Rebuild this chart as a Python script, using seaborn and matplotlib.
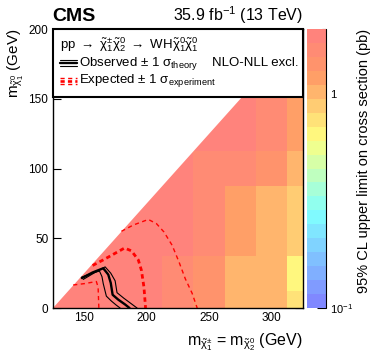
import matplotlib
matplotlib.use("Agg")
import matplotlib.pyplot as plt
import numpy as np
import pandas as pd
import seaborn as sns
from matplotlib.colors import LinearSegmentedColormap, ListedColormap, LogNorm
from matplotlib.patches import Polygon, Rectangle
from matplotlib.ticker import LogLocator, NullFormatter

# signal grid (GeV)
m_chargino = [125, 150, 175, 200, 225, 250, 275, 300, 325]
m_lsp = [0, 25, 50, 75, 100, 125, 150, 175, 200]
nan = np.nan
# 95% CL upper limit on the cross section (pb), one row per m_lsp
xsec_limit = [
    [1.95, 1.95, 1.92, 1.88, 1.70, 1.35, 0.95, 0.95, 0.80],
    [nan, 1.95, 1.92, 1.88, 1.70, 1.35, 1.00, 0.95, 0.70],
    [nan, nan, 1.95, 1.90, 1.85, 1.60, 1.25, 1.08, 0.85],
    [nan, nan, nan, 1.90, 1.85, 1.60, 1.25, 1.08, 0.85],
    [nan, nan, nan, nan, 1.90, 1.62, 1.55, 1.35, 1.08],
    [nan, nan, nan, nan, nan, 1.95, 1.80, 1.60, 1.10],
    [nan, nan, nan, nan, nan, nan, 1.90, 1.62, 1.18],
    [nan, nan, nan, nan, nan, nan, nan, 1.65, 1.25],
    [nan, nan, nan, nan, nan, nan, nan, nan, 1.30],
]

# exclusion contours
obs_x = [148.5, 157, 165.5, 169.5, 171.5, 173, 177.5, 183, 186.5]
obs_y = [21.5, 25.5, 28.5, 24, 18, 9.5, 6, 2.5, 0]
obs_up_x = [149.5, 158, 167, 171.5, 175, 176.5, 182, 188, 192.5]
obs_up_y = [20.5, 25, 29.5, 25, 19.5, 11, 7, 3, 0]
obs_dn_x = [148, 155, 162.5, 164.5, 165.5, 168, 172, 176, 179]
obs_dn_y = [22, 24.5, 26.5, 22.5, 17.5, 8.5, 5, 2, 0]

exp_x = [157, 165.5, 174.5, 182.5, 188, 193.5, 196, 198, 199.3]
exp_y = [30.5, 34.5, 39, 43, 41, 34.5, 27, 15, 0]
exp_up_x = [180, 189.5, 201.5, 208, 214, 220.5, 226, 231, 236.5, 240.5]
exp_up_y = [55, 59.5, 63.5, 60.5, 54.5, 45, 33, 21, 10.5, 0]
exp_dn_x = [141.5, 150.5, 160, 161.4, 162]
exp_dn_y = [16.5, 17.5, 19, 15, 0]

sns.set_style("ticks")
plt.rcParams["font.family"] = ["Liberation Sans", "DejaVu Sans"]
plt.rcParams["mathtext.fontset"] = "custom"
plt.rcParams["mathtext.rm"] = "Liberation Sans"
plt.rcParams["mathtext.it"] = "Liberation Sans"
plt.rcParams["mathtext.bf"] = "Liberation Sans:bold"
plt.rcParams["text.color"] = "black"
plt.rcParams["axes.labelcolor"] = "black"
plt.rcParams["xtick.color"] = "black"
plt.rcParams["ytick.color"] = "black"

# CMS SUSY palette, 20 levels
stops = [0.0, 0.34, 0.61, 0.84, 1.0]
rgb = [(0.5, 0.5, 1.0), (0.5, 1.0, 1.0), (1.0, 1.0, 0.5), (1.0, 0.6, 0.4), (1.0, 0.5, 0.5)]
base = LinearSegmentedColormap.from_list("susy", list(zip(stops, rgb)))
cmap = ListedColormap(base((np.arange(20) + 0.5) / 20))

rows = []
for j, my in enumerate(m_lsp):
    for i, mx in enumerate(m_chargino):
        if not np.isnan(xsec_limit[j][i]):
            rows.append({"mx": mx, "my": my, "limit": xsec_limit[j][i]})
df = pd.DataFrame(rows)

x_edges = np.arange(112.5, 337.6, 25)
y_edges = np.arange(-12.5, 212.6, 25)

fig = plt.figure(figsize=(3.74, 3.59), dpi=100)
ax = fig.add_axes([0.1404, 0.142, 0.6698, 0.777])
cax = fig.add_axes([0.821, 0.142, 0.05, 0.777])

sns.histplot(data=df, x="mx", y="my", weights="limit", bins=[x_edges, y_edges],
             cmap=cmap, ax=ax)
mesh = ax.collections[0]
mesh.set_norm(LogNorm(vmin=0.1, vmax=2.0))
mesh.set_clip_path(Polygon([(125, 0), (325, 200), (325, 0)], closed=True,
                           transform=ax.transData))

thin_dash = (3, 2.5)
thick_dash = (1.6, 1.2)
sns.lineplot(x=exp_up_x, y=exp_up_y, sort=False, estimator=None, color="red",
             lw=1.0, dashes=thin_dash, ax=ax)
sns.lineplot(x=exp_dn_x, y=exp_dn_y, sort=False, estimator=None, color="red",
             lw=1.0, dashes=thin_dash, ax=ax)
sns.lineplot(x=exp_x, y=exp_y, sort=False, estimator=None, color="red",
             lw=2.0, dashes=thick_dash, ax=ax)
sns.lineplot(x=obs_up_x, y=obs_up_y, sort=False, estimator=None, color="black",
             lw=0.8, ax=ax)
sns.lineplot(x=obs_dn_x, y=obs_dn_y, sort=False, estimator=None, color="black",
             lw=0.8, ax=ax)
sns.lineplot(x=obs_x, y=obs_y, sort=False, estimator=None, color="black",
             lw=1.7, ax=ax)

ax.set_xlim(125, 325)
ax.set_ylim(0, 200)
ax.set_xticks([150, 200, 250, 300])
ax.set_yticks([0, 50, 100, 150, 200])
ax.tick_params(direction="in", length=6, width=0.8, top=True, right=True,
               labelsize=8.5, pad=3, colors="black")
for s in ax.spines.values():
    s.set_linewidth(1.0)
    s.set_color("black")
ax.set_xlabel(r"m$_{\tilde{\chi}^{\pm}_{1}}$ = m$_{\tilde{\chi}^{0}_{2}}$ (GeV)",
              loc="right", fontsize=11.5, labelpad=5)
ax.set_ylabel(r"m$_{\tilde{\chi}^{0}_{1}}$ (GeV)", loc="top", fontsize=11, labelpad=2)

# legend box
ax.add_patch(Rectangle((0, 0.756), 1, 0.244, transform=ax.transAxes, facecolor="white",
                       edgecolor="black", lw=1.5, zorder=5, clip_on=False))
ax.text(0.03, 0.943, r"pp $\rightarrow$ $\tilde{\chi}^{\pm}_{1}\tilde{\chi}^{0}_{2}$ $\rightarrow$ WH$\tilde{\chi}^{0}_{1}\tilde{\chi}^{0}_{1}$",
        transform=ax.transAxes, fontsize=9.5, va="center", ha="left", zorder=6)
for dy, lw in [(0.012, 0.8), (-0.012, 0.8), (0.0, 1.7)]:
    ax.plot([0.03, 0.098], [0.878 + dy] * 2, color="black", lw=lw,
            transform=ax.transAxes, zorder=6, clip_on=False)
    ax.plot([0.03, 0.098], [0.814 + dy] * 2, color="red", lw=lw + 0.2,
            dashes=thick_dash if lw > 1 else thin_dash,
            transform=ax.transAxes, zorder=6, clip_on=False)
ax.text(0.106, 0.878, r"Observed $\pm$ 1 $\sigma_{\mathrm{theory}}$", transform=ax.transAxes,
        fontsize=9.5, va="center", ha="left", zorder=6)
ax.text(0.106, 0.814, r"Expected $\pm$ 1 $\sigma_{\mathrm{experiment}}$", transform=ax.transAxes,
        fontsize=9.5, va="center", ha="left", zorder=6)
ax.text(0.98, 0.878, "NLO-NLL excl.", transform=ax.transAxes,
        fontsize=9.5, va="center", ha="right", zorder=6)

ax.text(0.0, 1.028, "CMS", transform=ax.transAxes, fontsize=14, fontweight="bold",
        ha="left", va="baseline")
ax.text(1.0, 1.028, r"35.9 fb$^{-1}$ (13 TeV)", transform=ax.transAxes, fontsize=11.5,
        ha="right", va="baseline")

cb = fig.colorbar(mesh, cax=cax)
cb.outline.set_visible(False)
cax.plot([1, 1], [0, 1], color="black", lw=0.8, transform=cax.transAxes, clip_on=False)
cb.set_ticks([0.1, 1], labels=[r"$10^{-1}$", "1"])
cax.yaxis.set_minor_locator(LogLocator(subs=np.arange(2, 10)))
cax.yaxis.set_minor_formatter(NullFormatter())
cax.tick_params(which="major", direction="in", length=6.5, width=0.8, labelsize=8, pad=3,
                colors="black")
cax.tick_params(which="minor", direction="in", length=3.2, width=0.8, colors="black")
cb.set_label("95% CL upper limit on cross section (pb)", loc="top", fontsize=10.5,
             labelpad=3, color="black")

fig.savefig("out.png", dpi=100)
